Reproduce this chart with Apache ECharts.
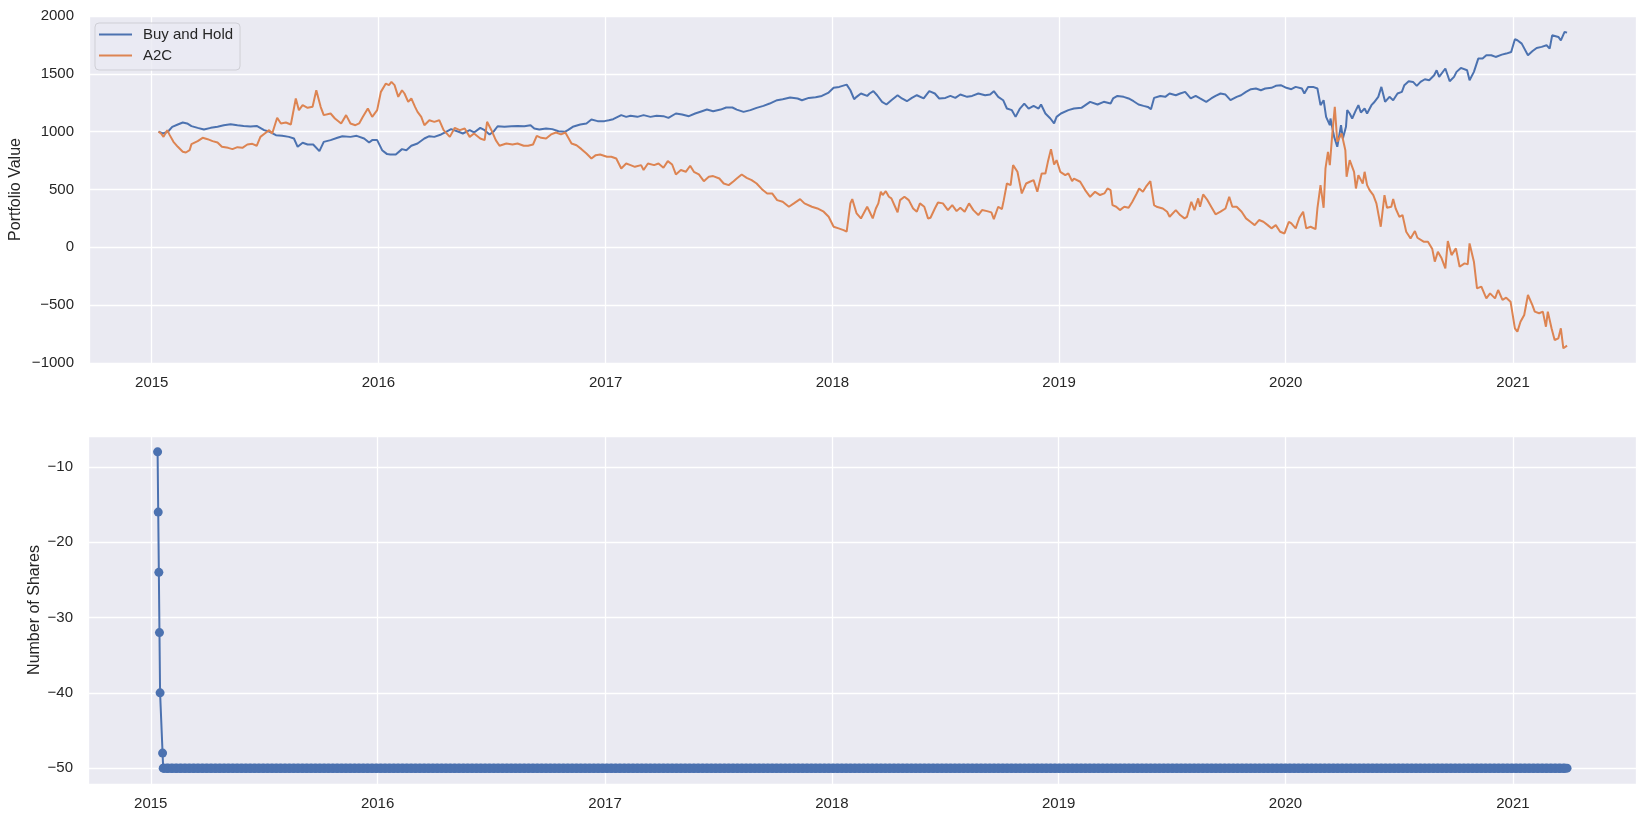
<!DOCTYPE html>
<html>
<head>
<meta charset="utf-8">
<title>Portfolio Value / Number of Shares</title>
<script src="https://cdn.jsdelivr.net/npm/echarts@6/dist/echarts.min.js"></script>
<style>
  html, body { margin: 0; padding: 0; background: #ffffff; }
  #chart { width: 1646px; height: 822px; }
</style>
</head>
<body>
<div id="chart"></div>
<script>
// values (both portfolios start at 1000 on 2015-01-12)
var bhDates = [
  '2015-01-12','2015-01-19','2015-01-27','2015-02-03','2015-02-12','2015-02-20','2015-02-27','2015-03-06',
  '2015-03-16','2015-03-26','2015-04-06','2015-04-17','2015-04-27','2015-05-08','2015-05-19','2015-05-29',
  '2015-06-09','2015-06-19','2015-07-01','2015-07-10','2015-07-20','2015-07-30','2015-08-10','2015-08-18',
  '2015-08-24','2015-09-01','2015-09-09','2015-09-18','2015-09-28','2015-10-05','2015-10-16','2015-10-27',
  '2015-11-04','2015-11-17','2015-11-27','2015-12-09','2015-12-17','2015-12-22','2015-12-30','2016-01-07',
  '2016-01-15','2016-01-20',
  '2016-01-22','2016-01-29','2016-02-08','2016-02-15','2016-02-23','2016-03-04','2016-03-15','2016-03-23',
  '2016-03-31','2016-04-11','2016-04-19','2016-04-27','2016-05-09','2016-05-16','2016-05-27','2016-06-03',
  '2016-06-13','2016-06-20','2016-06-28','2016-07-05','2016-07-11','2016-07-22','2016-08-02','2016-08-12',
  '2016-08-23','2016-09-02','2016-09-08','2016-09-16','2016-09-27','2016-10-07','2016-10-17','2016-10-27',
  '2016-11-01','2016-11-09','2016-11-21','2016-12-01','2016-12-09','2016-12-19','2016-12-30','2017-01-06',
  '2017-01-13','2017-01-26','2017-02-03',
  '2017-02-10','2017-02-21','2017-03-03','2017-03-14','2017-03-24','2017-04-04','2017-04-12','2017-04-24',
  '2017-05-04','2017-05-15','2017-05-25','2017-06-05','2017-06-13','2017-06-23','2017-07-05','2017-07-14',
  '2017-07-24','2017-07-31','2017-08-11','2017-08-22','2017-09-01','2017-09-12','2017-09-22','2017-10-04',
  '2017-10-13','2017-10-25','2017-11-06','2017-11-13','2017-11-24','2017-12-05','2017-12-15','2017-12-26',
  '2018-01-03','2018-01-12','2018-01-24','2018-01-30','2018-02-05','2018-02-09','2018-02-16','2018-02-26',
  '2018-03-02','2018-03-08','2018-03-14','2018-03-22','2018-03-29','2018-04-06','2018-04-16','2018-04-23',
  '2018-05-01','2018-05-09','2018-05-17','2018-05-28','2018-06-06','2018-06-15','2018-06-22','2018-07-02',
  '2018-07-10','2018-07-18','2018-07-26','2018-08-06','2018-08-14','2018-08-24','2018-09-04','2018-09-12',
  '2018-09-18','2018-09-25','2018-10-03','2018-10-09','2018-10-17','2018-10-23','2018-10-30','2018-11-06',
  '2018-11-13','2018-11-21','2018-11-29','2018-12-03','2018-12-10','2018-12-18','2018-12-24','2018-12-28',
  '2019-01-04','2019-01-16','2019-01-25','2019-02-06','2019-02-20','2019-03-04','2019-03-14',
  '2019-03-25','2019-03-29','2019-04-05','2019-04-15','2019-04-23','2019-05-01','2019-05-09','2019-05-17',
  '2019-05-24','2019-05-29','2019-06-03','2019-06-13','2019-06-21','2019-06-28','2019-07-08','2019-07-15',
  '2019-07-23','2019-08-01','2019-08-09','2019-08-16','2019-08-26','2019-09-03','2019-09-10','2019-09-18',
  '2019-09-26','2019-10-04','2019-10-14','2019-10-21','2019-10-29','2019-11-06','2019-11-14','2019-11-22',
  '2019-11-29','2019-12-09','2019-12-16','2019-12-24','2020-01-02','2020-01-10','2020-01-17','2020-01-27',
  '2020-01-31','2020-02-06','2020-02-14','2020-02-21','2020-02-26','2020-03-02','2020-03-06','2020-03-12',
  '2020-03-13','2020-03-19','2020-03-24','2020-03-30','2020-04-02','2020-04-07','2020-04-09',
  '2020-04-13','2020-04-17','2020-04-23','2020-04-27','2020-05-01','2020-05-07','2020-05-11','2020-05-18',
  '2020-05-22','2020-05-29','2020-06-03','2020-06-09','2020-06-16','2020-06-22','2020-06-29','2020-07-06',
  '2020-07-10','2020-07-17','2020-07-24','2020-07-30','2020-08-05','2020-08-12','2020-08-19','2020-08-27',
  '2020-08-31','2020-09-04','2020-09-14','2020-09-21','2020-09-28','2020-10-02','2020-10-09','2020-10-19',
  '2020-10-23','2020-10-30','2020-11-06','2020-11-13','2020-11-19','2020-11-27','2020-12-04','2020-12-14',
  '2020-12-21','2020-12-29','2021-01-04','2021-01-08','2021-01-15','2021-01-25','2021-02-01','2021-02-08',
  '2021-02-16','2021-02-24','2021-03-01','2021-03-05','2021-03-15','2021-03-19','2021-03-25','2021-03-29'
];
var bhValues = [
  1000, 984, 999, 1042, 1062, 1079, 1071, 1048,
  1033, 1019, 1033, 1042, 1056, 1065, 1056, 1050,
  1045, 1050, 1013, 999, 970, 964, 955, 941,
  869, 904, 889, 889, 832, 912, 927, 947,
  961, 955, 964, 941, 906, 927, 927, 840,
  806, 803,
  811, 803, 849, 840, 878, 898, 941, 961,
  955, 976, 999, 1022, 999, 984, 1013, 993,
  1033, 1013, 976, 1004, 1047, 1042, 1047, 1050,
  1047, 1056, 1027, 1019, 1027, 1022, 1004, 999,
  1013, 1042, 1062, 1071, 1105, 1091, 1091, 1099,
  1108, 1143, 1128,
  1137, 1128, 1143, 1128, 1137, 1134, 1119, 1157,
  1148, 1134, 1157, 1177, 1191, 1177, 1191, 1209,
  1209, 1191, 1171, 1186, 1206, 1223, 1243, 1272,
  1281, 1295, 1287, 1272, 1292, 1298, 1309, 1338,
  1379, 1387, 1407, 1358, 1281, 1301, 1330, 1309,
  1330, 1350, 1315, 1258, 1235, 1272, 1315, 1287,
  1263, 1292, 1315, 1287, 1350, 1330, 1287, 1292,
  1309, 1292, 1321, 1301, 1309, 1330, 1315, 1321,
  1350, 1301, 1272, 1200, 1186, 1128, 1200, 1243,
  1200, 1223, 1200, 1235, 1157, 1114, 1071, 1128,
  1157, 1186, 1200, 1206, 1258, 1235, 1258,
  1243, 1287, 1309, 1301, 1287, 1263, 1235, 1223,
  1214, 1194, 1292, 1309, 1301, 1330, 1315, 1330,
  1344, 1287, 1309, 1287, 1258, 1287, 1309, 1330,
  1321, 1272, 1301, 1315, 1344, 1367, 1373, 1358,
  1373, 1379, 1396, 1402, 1379, 1367, 1387, 1373,
  1330, 1387, 1387, 1373, 1229, 1272, 1128, 1056,
  1114, 955, 869, 1056, 941, 1042, 1186,
  1157, 1114, 1186, 1229, 1166, 1200, 1157, 1229,
  1252, 1301, 1387, 1258, 1301, 1272, 1330, 1344,
  1402, 1436, 1430, 1396, 1430, 1453, 1445, 1488,
  1531, 1474, 1546, 1436, 1474, 1517, 1551, 1531,
  1445, 1517, 1632, 1632, 1661, 1661, 1646, 1666,
  1675, 1689, 1799, 1790, 1761, 1661, 1695, 1724,
  1733, 1747, 1718, 1833, 1819, 1790, 1862, 1856
];

var a2cDates = [
  '2015-01-12','2015-01-16','2015-01-20','2015-01-26','2015-01-30','2015-02-05','2015-02-12','2015-02-20',
  '2015-02-25','2015-03-03','2015-03-06','2015-03-16','2015-03-24','2015-04-01','2015-04-09','2015-04-17',
  '2015-04-24','2015-05-04','2015-05-11','2015-05-19','2015-05-27','2015-06-04','2015-06-12','2015-06-19',
  '2015-06-25','2015-07-02','2015-07-09','2015-07-14','2015-07-22','2015-07-28','2015-08-05','2015-08-13',
  '2015-08-21','2015-08-26','2015-09-01','2015-09-09','2015-09-17','2015-09-23','2015-09-30','2015-10-05',
  '2015-10-16','2015-10-23','2015-11-02','2015-11-10','2015-11-17','2015-11-25','2015-12-01','2015-12-07',
  '2015-12-15','2015-12-22','2015-12-30','2016-01-05','2016-01-13','2016-01-18',
  '2016-01-22','2016-01-27','2016-02-02','2016-02-08','2016-02-12','2016-02-18','2016-02-23','2016-02-29',
  '2016-03-04','2016-03-10','2016-03-15','2016-03-23','2016-03-31','2016-04-08','2016-04-15','2016-04-25',
  '2016-05-03','2016-05-11','2016-05-19','2016-05-27','2016-06-03','2016-06-13','2016-06-20','2016-06-24',
  '2016-07-01','2016-07-08','2016-07-14','2016-07-25','2016-08-04','2016-08-12','2016-08-22','2016-08-29',
  '2016-09-06','2016-09-12','2016-09-19','2016-09-27','2016-10-05','2016-10-13','2016-10-21','2016-10-28',
  '2016-11-07','2016-11-15','2016-11-23','2016-12-01','2016-12-09','2016-12-16','2016-12-23','2017-01-03',
  '2017-01-10','2017-01-18','2017-01-26','2017-02-03',
  '2017-02-10','2017-02-17','2017-02-27','2017-03-03','2017-03-10','2017-03-20','2017-03-27','2017-04-04',
  '2017-04-11','2017-04-18','2017-04-24','2017-05-02','2017-05-10','2017-05-17','2017-05-23','2017-05-31',
  '2017-06-08','2017-06-16','2017-06-23','2017-07-03','2017-07-10','2017-07-18','2017-07-26','2017-07-31',
  '2017-08-08','2017-08-16','2017-08-24','2017-09-01','2017-09-11','2017-09-18','2017-09-26','2017-10-04',
  '2017-10-13','2017-10-23','2017-10-31','2017-11-10','2017-11-17','2017-11-29','2017-12-08','2017-12-18',
  '2017-12-26','2018-01-03','2018-01-11','2018-01-19','2018-01-24','2018-01-30','2018-02-02','2018-02-09',
  '2018-02-16','2018-02-26',
  '2018-03-02','2018-03-07','2018-03-12','2018-03-16','2018-03-20','2018-03-23','2018-03-28','2018-04-02',
  '2018-04-06','2018-04-12','2018-04-16','2018-04-20','2018-04-27','2018-05-04','2018-05-11','2018-05-17',
  '2018-05-22','2018-05-29','2018-06-04','2018-06-08','2018-06-15','2018-06-20','2018-06-28','2018-07-06',
  '2018-07-13','2018-07-20','2018-07-26','2018-08-02','2018-08-09','2018-08-16','2018-08-24','2018-08-30',
  '2018-09-07','2018-09-14','2018-09-18','2018-09-25','2018-10-01','2018-10-04','2018-10-09','2018-10-15',
  '2018-10-19','2018-10-26','2018-11-02','2018-11-09','2018-11-15','2018-11-21','2018-11-27','2018-12-04',
  '2018-12-10','2018-12-14','2018-12-19','2018-12-24','2018-12-28','2019-01-03','2019-01-11','2019-01-16',
  '2019-01-22','2019-01-25','2019-02-04','2019-02-12','2019-02-20','2019-02-28','2019-03-08','2019-03-15',
  '2019-03-20',
  '2019-03-25','2019-03-28','2019-04-03','2019-04-09','2019-04-16','2019-04-23','2019-04-29','2019-05-06',
  '2019-05-10','2019-05-16','2019-05-21','2019-05-28','2019-06-03','2019-06-07','2019-06-17','2019-06-24',
  '2019-06-28','2019-07-08','2019-07-15','2019-07-22','2019-07-26','2019-08-02','2019-08-07','2019-08-13',
  '2019-08-16','2019-08-21','2019-08-28','2019-09-03','2019-09-10','2019-09-18','2019-09-26','2019-10-02',
  '2019-10-07','2019-10-14','2019-10-22','2019-10-29','2019-11-05','2019-11-12','2019-11-19','2019-11-26',
  '2019-12-03','2019-12-09','2019-12-16','2019-12-23','2019-12-30','2020-01-06','2020-01-10','2020-01-17',
  '2020-01-23','2020-01-29','2020-02-03','2020-02-10','2020-02-18','2020-02-21','2020-02-26','2020-03-02',
  '2020-03-05','2020-03-09','2020-03-12','2020-03-16','2020-03-20','2020-03-24','2020-03-31','2020-04-06',
  '2020-04-08',
  '2020-04-13','2020-04-16','2020-04-20','2020-04-23','2020-04-27','2020-04-30','2020-05-04','2020-05-07',
  '2020-05-11','2020-05-15','2020-05-21','2020-05-26','2020-06-02','2020-06-08','2020-06-12','2020-06-19',
  '2020-06-22','2020-06-26','2020-07-02','2020-07-07','2020-07-13','2020-07-20','2020-07-27','2020-07-31',
  '2020-08-10','2020-08-17','2020-08-24','2020-08-28','2020-09-02','2020-09-08','2020-09-14','2020-09-18',
  '2020-09-24','2020-10-01','2020-10-07','2020-10-15','2020-10-20','2020-10-23','2020-10-30','2020-11-04',
  '2020-11-11','2020-11-19','2020-11-25','2020-12-03','2020-12-08','2020-12-15','2020-12-21','2020-12-28',
  '2021-01-04','2021-01-08','2021-01-13','2021-01-19','2021-01-25','2021-02-01','2021-02-05','2021-02-12',
  '2021-02-18','2021-02-23','2021-02-26','2021-03-04','2021-03-09','2021-03-15','2021-03-19','2021-03-23',
  '2021-03-29'
];
var a2cValues = [
  1000, 984, 955, 1013, 970, 912, 869, 826,
  820, 840, 892, 918, 947, 935, 918, 906,
  869, 860, 849, 866, 860, 889, 895, 878,
  955, 984, 1013, 984, 1120, 1071, 1079, 1062,
  1287, 1186, 1229, 1206, 1215, 1358, 1215, 1143,
  1157, 1114, 1071, 1143, 1071, 1056, 1071, 1128,
  1200, 1128, 1186, 1344, 1416, 1402,
  1430, 1402, 1301, 1358, 1330, 1258, 1287, 1214,
  1171, 1128, 1056, 1099, 1085, 1099, 1013, 955,
  1033, 1013, 1027, 955, 984, 941, 927, 1085,
  1013, 927, 878, 898, 889, 898, 878, 878,
  889, 964, 947, 941, 976, 993, 976, 993,
  898, 883, 849, 811, 768, 797, 803, 783,
  783, 768, 682, 725,
  711, 696, 711, 668, 725, 711, 725, 688,
  745, 716, 630, 668, 653, 705, 653, 630,
  572, 610, 616, 595, 552, 538, 572, 595,
  630, 601, 581, 552, 495, 466, 466, 408,
  394, 351, 380, 417, 380, 351, 336, 308,
  264, 178, 164, 149, 135, 380, 417, 293,
  250, 351,
  308, 250, 336, 380, 480, 452, 486, 437,
  423, 351, 302, 408, 437, 408, 336, 308,
  380, 351, 250, 256, 336, 388, 380, 322,
  365, 313, 342, 308, 380, 322, 279, 322,
  313, 302, 244, 351, 331, 408, 552, 538,
  711, 653, 466, 552, 567, 581, 480, 639,
  639, 739, 849, 716, 754, 653, 624, 639,
  572, 595, 567, 495, 437, 480, 452, 466,
  509,
  495, 365, 351, 322, 351, 342, 394, 466,
  509, 480, 524, 572, 365, 351, 336, 308,
  264, 322, 279, 250, 264, 394, 322, 423,
  351, 457, 408, 351, 285, 308, 336, 437,
  351, 351, 308, 250, 221, 192, 236, 221,
  192, 164, 192, 135, 120, 221, 207, 164,
  256, 308, 164, 178, 158, 336, 538, 342,
  682, 826, 711, 984, 1214, 912, 984, 840,
  610,
  754, 768, 653, 509, 624, 639, 552, 653,
  538, 495, 451, 380, 178, 451, 342, 351,
  417, 336, 264, 279, 135, 77, 141, 83,
  49, 49, -15, -124, -38, -95, -182, 54,
  -67, -9, -168, -139, -147, 34, -124, -355,
  -340, -441, -398, -441, -369, -455, -435, -470,
  -700, -729, -643, -585, -412, -498, -556, -570,
  -556, -686, -556, -700, -801, -787, -700, -873,
  -850
];

// short position built up over the first days, then held to the end
var rampDates = ['2015-01-12', '2015-01-13', '2015-01-14', '2015-01-15', '2015-01-16', '2015-01-20'];
var rampShares = [-8, -16, -24, -32, -40, -48];
var heldShares = -50;
var heldFrom = '2015-01-21';
var heldTo = '2021-03-29';

var BLUE = '#4c72b0';
var ORANGE = '#dd8452';
var INK = '#262626';
var FONT = '"Liberation Sans", Arial, sans-serif';
var DAY = 24 * 3600 * 1000;

function zip(xs, ys) {
  return xs.map(function (x, i) { return [x, ys[i]]; });
}

// every weekday the position is on the book
function tradingDays(from, to) {
  var out = [];
  var d = new Date(from + 'T00:00:00');
  var end = new Date(to + 'T00:00:00');
  while (d <= end) {
    var wd = d.getDay();
    if (wd !== 0 && wd !== 6) out.push(d.getTime());
    d.setDate(d.getDate() + 1);
  }
  return out;
}

var shareData = zip(rampDates, rampShares).concat(
  tradingDays(heldFrom, heldTo).map(function (t) { return [t, heldShares]; })
);

var minus = function (v) { return String(v).replace('-', '\u2212'); };

function timeAxis(idx) {
  return {
    type: 'time',
    gridIndex: idx,
    min: new Date(2014, 8, 22).getTime(),
    max: new Date(2021, 6, 18).getTime(),
    splitNumber: 7,
    minInterval: 365 * DAY,
    maxInterval: 366 * DAY,
    axisLine: { show: false },
    axisTick: { show: false },
    splitLine: { show: true, lineStyle: { color: '#ffffff', width: 1.3 } },
    axisLabel: {
      color: INK, fontSize: 15, fontFamily: FONT, margin: 12,
      formatter: function (v) {
        var d = new Date(v);
        return (d.getMonth() === 0 && d.getDate() === 1) ? String(d.getFullYear()) : '';
      }
    }
  };
}

var chart = echarts.init(document.getElementById('chart'), null, { renderer: 'canvas' });

var option = {
  animation: false,
  backgroundColor: '#ffffff',
  textStyle: { fontFamily: FONT },
  grid: [
    { left: 88, right: 10, top: 16, height: 347, show: true, backgroundColor: '#eaeaf2', borderWidth: 0 },
    { left: 88, right: 10, top: 436, height: 348, show: true, backgroundColor: '#eaeaf2', borderWidth: 0 }
  ],
  legend: {
    orient: 'vertical',
    left: 95,
    top: 23,
    data: [{ name: 'Buy and Hold', icon: 'rect' }, { name: 'A2C', icon: 'rect' }],
    itemWidth: 33,
    itemHeight: 2,
    itemGap: 6,
    padding: [4, 7, 7, 4],
    backgroundColor: 'rgba(234,234,242,0.8)',
    borderColor: '#cfcfd6',
    borderWidth: 1,
    borderRadius: 4,
    textStyle: { fontSize: 15, color: INK, fontFamily: FONT, lineHeight: 15, padding: [0, 0, 0, 6] }
  },
  xAxis: [timeAxis(0), timeAxis(1)],
  yAxis: [
    {
      type: 'value', gridIndex: 0,
      min: -1000, max: 2000, interval: 500,
      name: 'Portfolio Value', nameLocation: 'middle', nameGap: 65, nameMoveOverlap: false,
      nameTextStyle: { fontSize: 16, color: INK, fontFamily: FONT },
      axisLine: { show: false }, axisTick: { show: false },
      splitLine: { lineStyle: { color: '#ffffff', width: 1.3 } },
      axisLabel: { color: INK, fontSize: 15, fontFamily: FONT, margin: 15, formatter: minus }
    },
    {
      type: 'value', gridIndex: 1,
      min: -52.1, max: -5.9,
      name: 'Number of Shares', nameLocation: 'middle', nameGap: 45, nameMoveOverlap: false,
      nameTextStyle: { fontSize: 16, color: INK, fontFamily: FONT },
      axisLine: { show: false }, axisTick: { show: false },
      splitLine: { lineStyle: { color: '#ffffff', width: 1.3 } },
      axisLabel: {
        color: INK, fontSize: 15, fontFamily: FONT, margin: 15,
        formatter: function (v) { return v % 10 === 0 ? minus(v) : ''; }
      }
    }
  ],
  series: [
    {
      name: 'Buy and Hold', type: 'line', xAxisIndex: 0, yAxisIndex: 0,
      data: zip(bhDates, bhValues),
      showSymbol: false, symbol: 'none',
      itemStyle: { color: BLUE },
      lineStyle: { color: BLUE, width: 2 }
    },
    {
      name: 'A2C', type: 'line', xAxisIndex: 0, yAxisIndex: 0,
      data: zip(a2cDates, a2cValues),
      showSymbol: false, symbol: 'none',
      itemStyle: { color: ORANGE },
      lineStyle: { color: ORANGE, width: 2 }
    },
    {
      name: 'Shares', type: 'line', xAxisIndex: 1, yAxisIndex: 1,
      data: shareData,
      symbol: 'circle', symbolSize: 9, showSymbol: true,
      itemStyle: { color: BLUE },
      lineStyle: { color: BLUE, width: 2 }
    }
  ]
};

chart.setOption(option);
</script>
</body>
</html>
